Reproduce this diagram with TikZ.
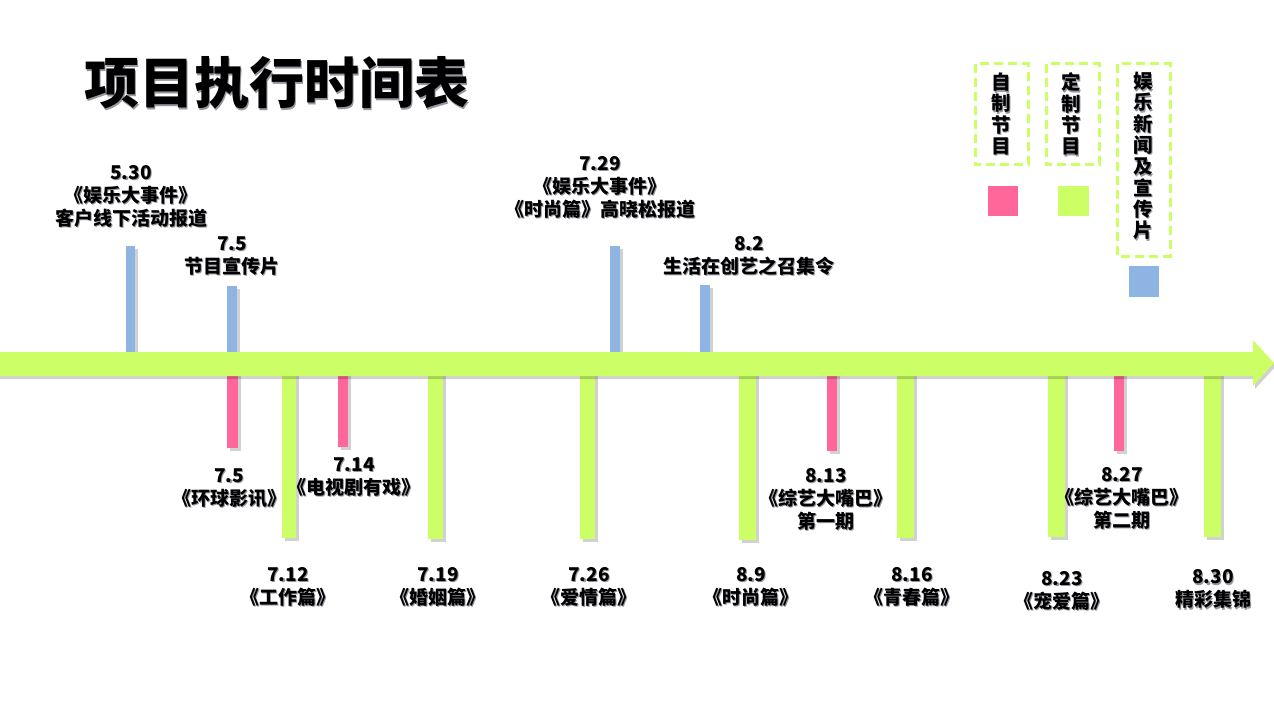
\documentclass[tikz,border=0pt]{standalone}
\usepackage{fontspec}
\setmainfont{Noto Sans CJK SC}
\definecolor{cgreen}{RGB}{204,255,102}
\definecolor{cpink}{RGB}{255,102,153}
\definecolor{cblue}{RGB}{142,180,227}
\definecolor{shadowc}{RGB}{150,150,160}
\tikzset{
  lbl/.style={font=\bfseries\fontsize{19}{23}\selectfont, align=center, text=black, inner sep=0pt},
  titlef/.style={font=\bfseries\fontsize{55}{60}\selectfont, inner sep=0pt},
  legt/.style={font=\bfseries\fontsize{19.5}{21.3}\selectfont, align=center, inner sep=0pt},
  barsh/.style={fill=black, opacity=0.18},
  legbox/.style={draw=cgreen, line width=3pt, dash pattern=on 9pt off 5pt},
}
\newcommand\lab[4][lbl]{%
  \node[#1, text=shadowc] (#2s) at ([shift={(1.4,1.4)}]#3) {#4};
  \node[#1] (#2) at (#3) {#4};}
\newcommand\upbar[4]{% x1 x2 top colour
  \fill[barsh] (#1+2.5,#3+2.5) rectangle (#2+2.5,352);
  \fill[#4] (#1,#3) rectangle (#2,352);}
\newcommand\dnbar[4]{% x1 x2 bottom colour
  \fill[barsh] (#1+2.5,376) rectangle (#2+2.5,#3+2.5);
  \fill[#4] (#1,376) rectangle (#2,#3);}
\begin{document}
\begin{tikzpicture}[x=1pt,y=-1pt]
\useasboundingbox (0,0) rectangle (1274,714);
\fill[white] (0,0) rectangle (1274,714);
% title
\lab[titlef]{title}{277,83}{项目执行时间表}
% legend
\draw[legbox] (975,64) rectangle (1028,165);
\draw[legbox] (1046,64) rectangle (1099,165);
\draw[legbox] (1117,64) rectangle (1170,256);
\lab[legt]{leg1}{1001,114}{自\\制\\节\\目}
\lab[legt]{leg2}{1071,114}{定\\制\\节\\目}
\lab[legt]{leg3}{1143,156}{娱\\乐\\新\\闻\\及\\宣\\传\\片}
\fill[cpink] (988,186) rectangle (1018,216);
\fill[cgreen] (1058,186) rectangle (1089,216);
\fill[cblue] (1129,266) rectangle (1159,297);
% upward bars (blue)
\upbar{126}{135}{246}{cblue}
\upbar{227}{237}{286}{cblue}
\upbar{610}{620}{246}{cblue}
\upbar{700}{710}{285}{cblue}
% downward bars (pink)
\dnbar{227}{238}{448}{cpink}
\dnbar{338}{348}{447}{cpink}
\dnbar{827}{837}{451}{cpink}
\dnbar{1114}{1124}{451}{cpink}
% downward bars (green)
\dnbar{282}{296}{538}{cgreen}
\dnbar{428}{443}{539}{cgreen}
\dnbar{580}{595}{539}{cgreen}
\dnbar{739}{756}{540}{cgreen}
\dnbar{897}{914}{538}{cgreen}
\dnbar{1048}{1065}{537}{cgreen}
\dnbar{1204}{1221}{537}{cgreen}
% main arrow
\fill[barsh] (0,355) -- (1255,355) -- (1255,343) -- (1276,366) -- (1255,389) -- (1255,379) -- (0,379) -- cycle;
\fill[cgreen] (0,352) -- (1253,352) -- (1253,340) -- (1274,363) -- (1253,386) -- (1253,376) -- (0,376) -- cycle;
% labels
\lab{l530}{131,196}{5.30\\《娱乐大事件》\\客户线下活动报道}
\lab{l75b}{232,256}{7.5\\节目宣传片}
\lab{l729}{600,187}{7.29\\《娱乐大事件》\\《时尚篇》高晓松报道}
\lab{l82}{749,256}{8.2\\生活在创艺之召集令}
\lab{l75p}{229,488}{7.5\\《环球影讯》}
\lab{l714}{354,477}{7.14\\《电视剧有戏》}
\lab{l712}{288,587}{7.12\\《工作篇》}
\lab{l719}{438,587}{7.19\\《婚姻篇》}
\lab{l726}{589,587}{7.26\\《爱情篇》}
\lab{l89}{751,587}{8.9\\《时尚篇》}
\lab{l813}{826,499}{8.13\\《综艺大嘴巴》\\第一期}
\lab{l816}{912,587}{8.16\\《青春篇》}
\lab{l823}{1062,591}{8.23\\《宠爱篇》}
\lab{l827}{1122,498}{8.27\\《综艺大嘴巴》\\第二期}
\lab{l830}{1213,589}{8.30\\精彩集锦}
\end{tikzpicture}
\end{document}
